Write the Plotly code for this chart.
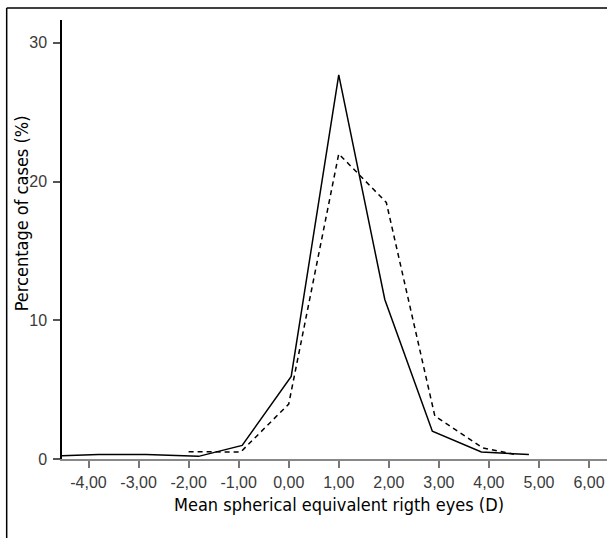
import plotly.graph_objects as go

# Data
x_solid = [-4.8, -3.8, -2.85, -1.8, -0.93, 0.05, 1.0, 1.92, 2.87, 3.85, 4.8]
y_solid = [0.2, 0.33, 0.33, 0.19, 0.98, 5.95, 27.7, 11.5, 2.0, 0.5, 0.33]

x_dashed = [-2.0, -0.96, 0.0, 1.0, 1.95, 2.92, 3.88, 4.5]
y_dashed = [0.53, 0.5, 3.96, 22.0, 18.5, 3.1, 0.8, 0.35]

x_tickvals = [-4, -3, -2, -1, 0, 1, 2, 3, 4, 5, 6]
x_ticktext = ["-4,00", "-3,00", "-2,00", "-1,00", "0,00", "1,00", "2,00", "3,00", "4,00", "5,00", "6,00"]
y_tickvals = [0, 10, 20, 30]

x_title = "Mean spherical equivalent rigth eyes (D)"
y_title = "Percentage of cases (%)"

FONT = "Liberation Sans Narrow, DejaVu Sans Condensed, Roboto, sans-serif"
TICKFONT = "Liberation Sans, Arial, sans-serif"

fig = go.Figure()
fig.add_trace(go.Scatter(x=x_solid, y=y_solid, mode="lines",
                         line=dict(color="black", width=1.5), showlegend=False))
fig.add_trace(go.Scatter(x=x_dashed, y=y_dashed, mode="lines",
                         line=dict(color="black", width=1.5, dash="5px,4px"), showlegend=False))

fig.update_layout(
    width=607, height=538,
    margin=dict(l=62, r=0, t=20, b=79),
    paper_bgcolor="white", plot_bgcolor="white",
    font=dict(family=FONT, color="#444"),
    xaxis=dict(range=[-4.53, 6.36], tickvals=x_tickvals, ticktext=x_ticktext,
               showgrid=False, zeroline=False, showline=True, linecolor="#888", linewidth=2,
               ticks="outside", ticklen=7, tickcolor="#777", tickwidth=1.5,
               ticklabelstandoff=1,
               tickfont=dict(size=16, color="#3a3a3a", family=TICKFONT)),
    yaxis=dict(range=[0, 31.65], tickvals=y_tickvals,
               showgrid=False, zeroline=False, showline=True, linecolor="black", linewidth=1.5,
               ticks="outside", ticklen=7, tickcolor="#555", tickwidth=1.5,
               ticklabelstandoff=3,
               tickfont=dict(size=16, color="#3a3a3a", family=TICKFONT)),
    annotations=[
        dict(text=x_title, xref="paper", yref="paper", x=0.508, y=-0.104,
             showarrow=False, font=dict(size=18, color="black", family=FONT),
             xanchor="center", yanchor="middle"),
        dict(text=y_title, xref="paper", yref="paper", x=-0.074, y=0.559,
             showarrow=False, textangle=-90, font=dict(size=18, color="black", family=FONT),
             xanchor="center", yanchor="middle"),
    ],
    shapes=[
        dict(type="line", xref="paper", yref="paper", x0=-0.1015, x1=1.02, y0=1.0273, y1=1.0273,
             line=dict(color="black", width=1.5)),
        dict(type="line", xref="paper", yref="paper", x0=-0.1015, x1=-0.1015, y0=1.0273, y1=-0.22,
             line=dict(color="black", width=1.5)),
    ],
)

fig.write_html(
    "out.html",
    config={"displayModeBar": False},
    post_script="document.body.style.margin='0';document.body.style.overflow='hidden';",
)
